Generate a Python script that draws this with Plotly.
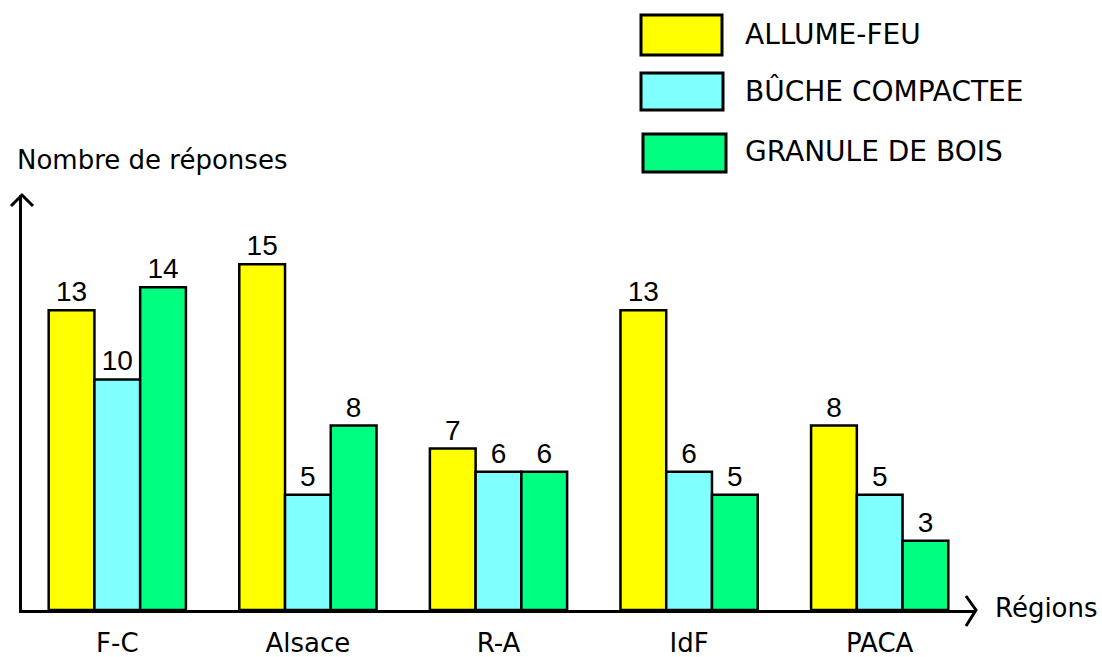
import plotly.graph_objects as go

regions = ["F-C", "Alsace", "R-A", "IdF", "PACA"]
series_names = ["ALLUME-FEU", "BÛCHE COMPACTEE", "GRANULE DE BOIS"]
allume_feu = [13, 15, 7, 13, 8]
buche_compactee = [10, 5, 6, 6, 5]
granule_bois = [14, 8, 6, 5, 3]
colors = ["#FFFF00", "#80FFFF", "#00FF80"]

W, H = 1102, 657
L, R, T, B = 22, 127, 195, 47
PW, PH = W - L - R, H - T - B


def px(x):
    return (x - L) / PW


def py(y):
    return (H - B - y) / PH


FONT = "DejaVu Sans"

fig = go.Figure()
for name, vals, col in zip(series_names, [allume_feu, buche_compactee, granule_bois], colors):
    fig.add_trace(go.Bar(
        x=regions, y=vals, name=name,
        marker=dict(color=col, line=dict(color="black", width=2.5)),
        text=[str(v) for v in vals], textposition="outside",
        textfont=dict(family="Liberation Sans", size=28, color="black"),
        cliponaxis=False, showlegend=False,
    ))

shapes = []
annotations = []

# legend boxes drawn manually
legend_boxes = [(641, 15, 722, 55), (641, 73, 723, 110), (643, 134, 726, 172)]
for (x0, y0, x1, y1), col, name in zip(legend_boxes, colors, series_names):
    shapes.append(dict(type="rect", xref="paper", yref="paper",
                       x0=px(x0), x1=px(x1), y0=py(y1), y1=py(y0),
                       fillcolor=col, line=dict(color="black", width=3)))
    annotations.append(dict(text=name, xref="paper", yref="paper",
                            x=px(743), y=py((y0 + y1) / 2 - 1), xanchor="left", yanchor="middle",
                            showarrow=False, font=dict(family=FONT, size=28, color="black")))

# arrow heads
shapes.append(dict(type="path", xref="paper", yref="paper", xsizemode="pixel", ysizemode="pixel",
                   xanchor=0, yanchor=1, path="M -11,-11 L 0,0 L 11,-11",
                   line=dict(color="black", width=3)))
shapes.append(dict(type="path", xref="paper", yref="paper", xsizemode="pixel", ysizemode="pixel",
                   xanchor=1, yanchor=0, path="M -9,14 L 1,0 L -9,-16",
                   line=dict(color="black", width=3)))

annotations.append(dict(text="Nombre de réponses", xref="paper", yref="paper",
                        x=px(15), y=py(160), xanchor="left", yanchor="middle", showarrow=False,
                        font=dict(family=FONT, size=26, color="black")))
annotations.append(dict(text="Régions", xref="paper", yref="paper",
                        x=px(993), y=py(608), xanchor="left", yanchor="middle", showarrow=False,
                        font=dict(family=FONT, size=26, color="black")))

fig.update_layout(
    width=W, height=H,
    margin=dict(l=L, r=R, t=T, b=B, autoexpand=False),
    paper_bgcolor="white", plot_bgcolor="white",
    barmode="group", bargap=0.28, bargroupgap=0,
    shapes=shapes, annotations=annotations,
    xaxis=dict(showline=True, linecolor="black", linewidth=3, showgrid=False, ticks="",
               ticklabelstandoff=8, automargin=False,
               tickfont=dict(family=FONT, size=26, color="black"), zeroline=False),
    yaxis=dict(range=[0, 18], showline=True, linecolor="black", linewidth=3, showgrid=False,
               showticklabels=False, ticks="", zeroline=False, automargin=False),
)

fig.write_html("out.html")
